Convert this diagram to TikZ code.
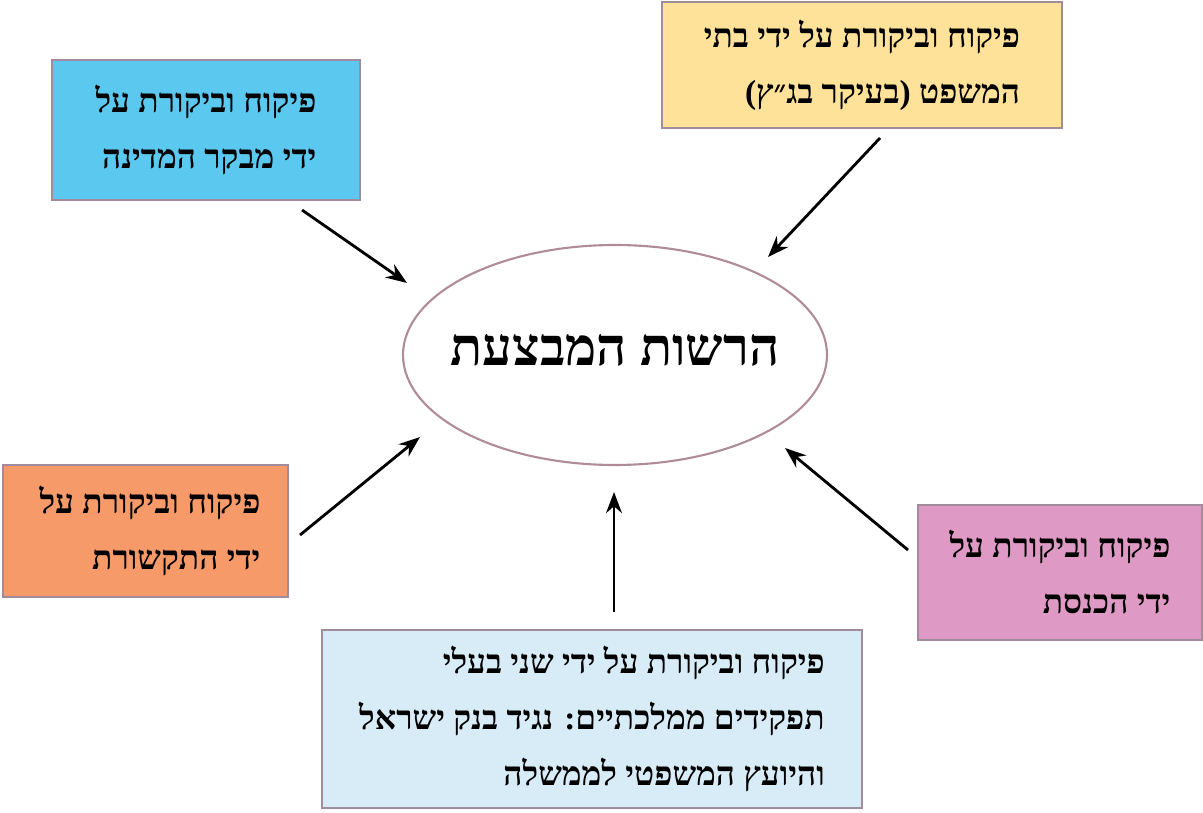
\documentclass[tikz,border=0pt]{standalone}
\usepackage{fontspec}
\usetikzlibrary{arrows.meta}
\TeXXeTstate=1
\newfontfamily\hebfont[Script=Hebrew]{Liberation Serif}
\newcommand{\hl}[1]{\beginR #1\endR}
\definecolor{boxline}{HTML}{A08C9C}
\definecolor{cyanbox}{HTML}{5BC8F0}
\definecolor{yellowbox}{HTML}{FFE29A}
\definecolor{orangebox}{HTML}{F79A6A}
\definecolor{pinkbox}{HTML}{DE9AC4}
\definecolor{palebox}{HTML}{D8ECF8}
\definecolor{ellline}{HTML}{B08C98}
\tikzset{
	ctrlbox/.style={draw=boxline, line width=1.5pt, align=right, inner sep=0pt,
		font=\hebfont\bfseries\fontsize{19}{32}\selectfont},
	arr/.style={-{Stealth[length=12pt,width=9pt]}, line width=1.6pt}
}
\begin{document}
\begin{tikzpicture}[x=0.02cm, y=-0.02cm]

	\useasboundingbox (0,0) rectangle (1203,813);

	\draw[ellline, line width=1.2pt, fill=white] (615,355) ellipse [x radius=212, y radius=110];
	\node[font=\hebfont\bfseries\fontsize{30}{36}\selectfont] (exec) at (615,350) {\hl{הרשות המבצעת}};

	% boxes
	\filldraw[ctrlbox, fill=cyanbox] (52,60) rectangle (360,200);
	\node[ctrlbox, draw=none] (comp) at (206,130) {\hl{פיקוח וביקורת על}\\\hl{ידי מבקר המדינה}};

	\filldraw[ctrlbox, fill=yellowbox] (662,2) rectangle (1062,128);
	\node[ctrlbox, draw=none] (court) at (862,65) {\hl{פיקוח וביקורת על ידי בתי}\\\hl{המשפט (בעיקר בג״ץ)}};

	\filldraw[ctrlbox, fill=orangebox] (3,465) rectangle (288,597);
	\node[ctrlbox, draw=none] (media) at (150,531) {\hl{פיקוח וביקורת על}\\\hl{ידי התקשורת}};

	\filldraw[ctrlbox, fill=pinkbox] (918,505) rectangle (1202,640);
	\node[ctrlbox, draw=none] (knesset) at (1060,572) {\hl{פיקוח וביקורת על}\\\hl{ידי הכנסת}};

	\filldraw[ctrlbox, fill=palebox] (322,630) rectangle (862,808);
	\node[ctrlbox, draw=none] (offic) at (592,719) {\hl{פיקוח וביקורת על ידי שני בעלי}\\\hl{תפקידים ממלכתיים: נגיד בנק ישראל}\\\hl{והיועץ המשפטי לממשלה}};

	% arrows
	\coordinate (a1) at (302,210); \coordinate (b1) at (407,283);
	\coordinate (a2) at (880,138); \coordinate (b2) at (768,257);
	\coordinate (a3) at (300,535); \coordinate (b3) at (420,437);
	\coordinate (a4) at (908,550); \coordinate (b4) at (785,448);
	\coordinate (a5) at (614,612); \coordinate (b5) at (614,492);
	\foreach \i in {1,...,5}
		\draw[arr] (a\i) -- (b\i);

\end{tikzpicture}
\end{document}
